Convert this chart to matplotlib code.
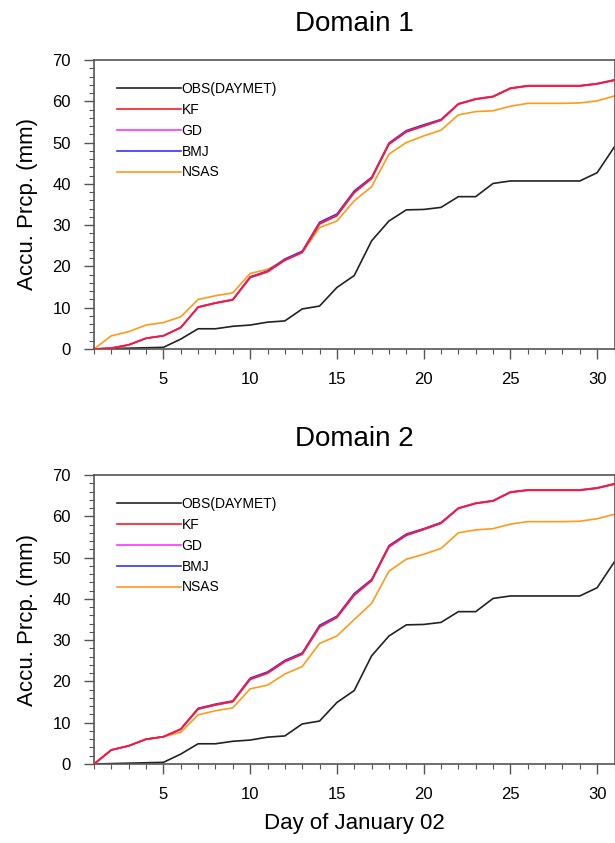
import numpy as np
import matplotlib
matplotlib.use('Agg')
import matplotlib.pyplot as plt
from matplotlib.ticker import MultipleLocator

plt.rcParams['font.family'] = ['Liberation Sans', 'DejaVu Sans']

# Days of January 2002
days = np.arange(1, 32)

# Observation (same in both domains)
obs = [0.0, 0.1, 0.2, 0.3, 0.4, 2.4, 4.9, 4.9, 5.5, 5.8, 6.5, 6.8, 9.7, 10.4, 14.9, 17.8,
       26.2, 31.0, 33.7, 33.8, 34.3, 36.9, 36.9, 40.1, 40.7, 40.7, 40.7, 40.7, 40.7, 42.7, 49.0]

# Domain 1
kf_d1 = [0.0, 0.2, 1.0, 2.6, 3.2, 5.2, 10.1, 11.1, 11.9, 17.3, 18.7, 21.5, 23.4, 30.3, 32.3, 37.9,
         41.3, 49.6, 52.6, 54.0, 55.4, 59.3, 60.5, 61.1, 63.1, 63.7, 63.7, 63.7, 63.7, 64.2, 65.1]
gd_d1 = [0.0, 0.2, 1.0, 2.6, 3.2, 5.2, 10.1, 11.1, 11.9, 17.3, 18.7, 21.5, 23.4, 30.3, 32.3, 37.9,
         41.3, 49.6, 52.6, 54.0, 55.4, 59.3, 60.5, 61.1, 63.1, 63.7, 63.7, 63.7, 63.7, 64.2, 65.1]
bmj_d1 = [0.0, 0.2, 1.0, 2.6, 3.2, 5.2, 10.2, 11.2, 12.0, 17.5, 18.9, 21.8, 23.7, 30.7, 32.7, 38.3,
          41.6, 49.9, 52.9, 54.3, 55.6, 59.4, 60.6, 61.2, 63.2, 63.8, 63.8, 63.8, 63.8, 64.3, 65.2]
nsas_d1 = [0.0, 3.2, 4.2, 5.8, 6.4, 7.8, 12.0, 12.9, 13.6, 18.3, 19.3, 21.5, 23.4, 29.4, 31.0, 35.9,
           39.3, 47.2, 50.0, 51.6, 53.0, 56.7, 57.5, 57.7, 58.8, 59.5, 59.5, 59.5, 59.6, 60.1, 61.3]

# Domain 2
kf_d2 = [0.0, 3.4, 4.4, 6.0, 6.6, 8.4, 13.3, 14.3, 15.1, 20.5, 22.0, 24.8, 26.6, 33.2, 35.5, 40.9,
         44.4, 52.6, 55.4, 56.8, 58.3, 61.9, 63.1, 63.7, 65.8, 66.3, 66.3, 66.3, 66.3, 66.8, 67.8]
gd_d2 = [0.0, 3.4, 4.4, 6.0, 6.6, 8.4, 13.3, 14.3, 15.1, 20.5, 22.0, 24.8, 26.6, 33.2, 35.5, 40.9,
         44.4, 52.6, 55.4, 56.8, 58.3, 61.9, 63.1, 63.7, 65.8, 66.3, 66.3, 66.3, 66.3, 66.8, 67.8]
bmj_d2 = [0.0, 3.4, 4.4, 6.0, 6.6, 8.5, 13.5, 14.5, 15.3, 20.8, 22.3, 25.1, 26.9, 33.6, 35.8, 41.3,
          44.7, 52.9, 55.7, 57.0, 58.5, 62.0, 63.2, 63.8, 65.9, 66.4, 66.4, 66.4, 66.4, 66.9, 67.9]
nsas_d2 = [0.0, 3.4, 4.4, 6.0, 6.6, 7.7, 11.9, 12.9, 13.6, 18.2, 19.1, 21.8, 23.6, 29.2, 31.0, 35.0,
           38.9, 46.7, 49.6, 50.8, 52.2, 56.0, 56.7, 57.0, 58.1, 58.7, 58.7, 58.7, 58.8, 59.4, 60.5]

labels = ['OBS(DAYMET)', 'KF', 'GD', 'BMJ', 'NSAS']
colors = ['#222222', '#ff1a1a', '#ff33ff', '#3333ff', '#ff9a1a']
zorders = [2, 5, 4, 3, 2]

panels = [('Domain 1', [obs, kf_d1, gd_d1, bmj_d1, nsas_d1]),
          ('Domain 2', [obs, kf_d2, gd_d2, bmj_d2, nsas_d2])]

fig = plt.figure(figsize=(6.15, 8.43), dpi=100)
axes_rects = [[94 / 615, 1 - 349 / 843, 520.5 / 615, 289 / 843],
              [94 / 615, 1 - 764 / 843, 520.5 / 615, 289 / 843]]

for i, (title, series) in enumerate(panels):
    ax = fig.add_axes(axes_rects[i])
    for vals, lab, col, z in zip(series, labels, colors, zorders):
        ax.plot(days, vals, color=col, linewidth=1.2, label=lab, zorder=z)

    ax.set_xlim(1, 31)
    ax.set_ylim(0, 70)
    ax.xaxis.set_major_locator(MultipleLocator(5))
    ax.xaxis.set_minor_locator(MultipleLocator(1))
    ax.yaxis.set_major_locator(MultipleLocator(10))
    ax.yaxis.set_minor_locator(MultipleLocator(2))
    ax.tick_params(which='major', direction='out', length=7.5, width=1.0, color='#555555',
                   labelsize=12, pad=9)
    ax.tick_params(which='minor', direction='out', length=3.8, width=0.8, color='#555555')
    for s in ax.spines.values():
        s.set_color('#555555')
        s.set_linewidth(1.2)

    ax.set_title(title, fontsize=20, pad=21)
    ax.set_ylabel('Accu. Prcp. (mm)', fontsize=16)
    ax.yaxis.set_label_coords(-0.108, 0.5)
    if i == 1:
        ax.set_xlabel('Day of January 02', fontsize=16, labelpad=8)

    ax.legend(loc='upper left', bbox_to_anchor=(0.044, 0.925), frameon=False,
              fontsize=10, handlelength=4.6, handletextpad=0.05, labelspacing=0.5,
              borderpad=0, borderaxespad=0)

plt.savefig('out.png', dpi=100)
